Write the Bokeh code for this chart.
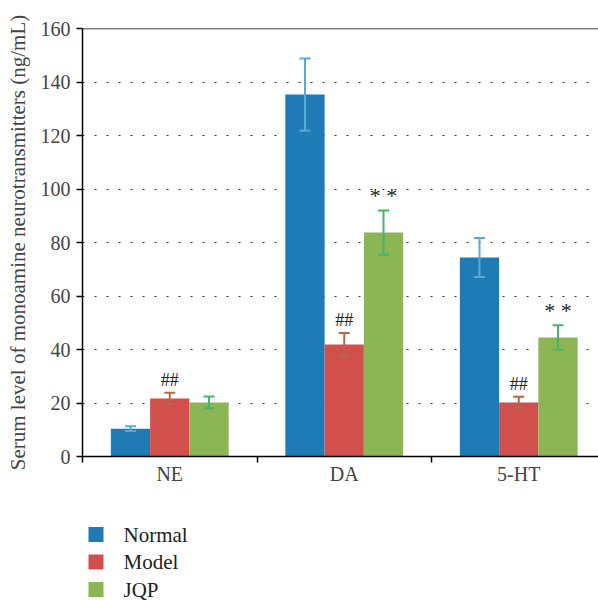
from bokeh.plotting import figure
from bokeh.layouts import column
from bokeh.models import (Range1d, FixedTicker, Whisker, TeeHead, ColumnDataSource, Span)
from bokeh.core.properties import value
from bokeh.embed import file_html
from bokeh.resources import INLINE

categories = ["NE", "DA", "5-HT"]
groups = ["Normal", "Model", "JQP"]
normal = [10.4, 135.3, 74.4]
normal_err = [0.9, 13.5, 7.3]
model = [21.7, 41.9, 20.2]
model_err = [2.1, 4.3, 2.1]
jqp = [20.2, 83.7, 44.5]
jqp_err = [2.2, 8.3, 4.6]
model_marks = ["##", "##", "##"]
jqp_marks = ["", "* *", "* *"]
y_ticks = [0, 20, 40, 60, 80, 100, 120, 140, 160]

bar_colors = ["#1F7BB6", "#D1504B", "#8CB553"]
err_colors = ["#5AA9DD", "#B8654A", "#46B46C"]
offsets = [-0.225, 0.0, 0.225]
bar_w = 0.225
FONT = "Liberation Serif"

p = figure(frame_width=516, frame_height=428, output_backend="svg", toolbar_location=None,
           x_range=Range1d(0, 516 / 174.5), y_range=Range1d(0, 160),
           min_border_left=82, min_border_right=0, min_border_top=28, min_border_bottom=64)
p.outline_line_color = None
p.background_fill_color = "white"

centers = [i + 0.5 for i in range(len(categories))]
series = [normal, model, jqp]
errs = [normal_err, model_err, jqp_err]

for g, (vals, ers, off, bc, ec) in enumerate(zip(series, errs, offsets, bar_colors, err_colors)):
    src = ColumnDataSource(dict(
        x=[c + off for c in centers], top=vals,
        upper=[v + e for v, e in zip(vals, ers)],
        lower=[v - e for v, e in zip(vals, ers)]))
    p.vbar(x="x", top="top", width=bar_w, bottom=0, source=src,
           fill_color=bc, line_color=None)
    w = Whisker(base="x", upper="upper", lower="lower", source=src,
                line_color=ec, line_width=2, level="overlay",
                upper_head=TeeHead(size=11, line_color=ec, line_width=2),
                lower_head=TeeHead(size=11, line_color=ec, line_width=2))
    p.add_layout(w)

# significance marks
msrc = ColumnDataSource(dict(
    x=[c + offsets[1] for c in centers],
    y=[v + e for v, e in zip(model, model_err)], t=model_marks))
jsrc = ColumnDataSource(dict(
    x=[c + offsets[2] for c in centers],
    y=[v + e for v, e in zip(jqp, jqp_err)], t=jqp_marks))
p.text(x="x", y="y", text="t", source=msrc, text_font=value(FONT), text_font_size="18px",
       text_align="center", text_baseline="bottom", y_offset=-3, text_color="#222222")
p.text(x="x", y="y", text="t", source=jsrc, text_font=value(FONT), text_font_size="22px",
       text_align="center", text_baseline="bottom", y_offset=-2, text_color="#222222")

# top border
p.add_layout(Span(location=160, dimension="width", line_color="black", line_width=1.5))

# axes
p.yaxis.ticker = FixedTicker(ticks=y_ticks)
p.yaxis.axis_label = "Serum level of monoamine neurotransmitters (ng/mL)"
p.yaxis.axis_label_text_font = FONT
p.yaxis.axis_label_text_font_style = "normal"
p.yaxis.axis_label_text_font_size = "21px"
p.yaxis.axis_label_standoff = 8
p.yaxis.major_label_text_font = FONT
p.yaxis.major_label_text_font_size = "20px"
p.yaxis.major_label_standoff = 6
p.yaxis.major_tick_out = 6
p.yaxis.major_tick_in = 0
p.yaxis.minor_tick_line_color = None
p.yaxis.axis_line_width = 1.5
p.yaxis.major_tick_line_width = 1.5

p.xaxis.ticker = FixedTicker(ticks=centers, minor_ticks=[0, 1, 2, 3])
p.xaxis.major_label_overrides = {c: lab for c, lab in zip(centers, categories)}
p.xaxis.major_label_text_font = FONT
p.xaxis.major_label_text_font_size = "20px"
p.xaxis.major_label_standoff = 0
p.xaxis.major_tick_line_color = None
p.xaxis.major_tick_out = 6
p.xaxis.minor_tick_out = 6
p.xaxis.minor_tick_in = 0
p.xaxis.minor_tick_line_color = "black"
p.xaxis.minor_tick_line_width = 1.5
p.xaxis.axis_line_width = 1.5

p.xgrid.grid_line_color = None
p.ygrid.ticker = FixedTicker(ticks=y_ticks[1:-1])
p.ygrid.grid_line_color = "#333333"
p.ygrid.grid_line_dash = "2 10"
p.ygrid.grid_line_width = 1.2

# legend drawn in its own strip below the plot (pixel-unit ranges; frame aligned to main frame)
LG_H = 80
lg = figure(frame_width=516, frame_height=LG_H, output_backend="svg", toolbar_location=None,
            x_range=Range1d(82, 598), y_range=Range1d(LG_H, 0),
            x_axis_type=None, y_axis_type=None, min_border=0,
            min_border_left=82, min_border_right=0)
lg.outline_line_color = None
lg.grid.visible = False
row_y = [14 + 27.5 * i for i in range(len(groups))]
lsrc = ColumnDataSource(dict(y=row_y, c=bar_colors, t=groups))
lg.rect(x=95.5, y="y", width=15, height=15, width_units="screen", height_units="screen",
        fill_color="c", line_color=None, source=lsrc)
lg.text(x=123, y="y", text="t", source=lsrc, text_font=value(FONT), text_font_size="21px",
        text_align="left", text_baseline="middle", text_color="#222222")

layout = column(p, lg, spacing=0)
open("out.html", "w").write(file_html(layout, INLINE))
